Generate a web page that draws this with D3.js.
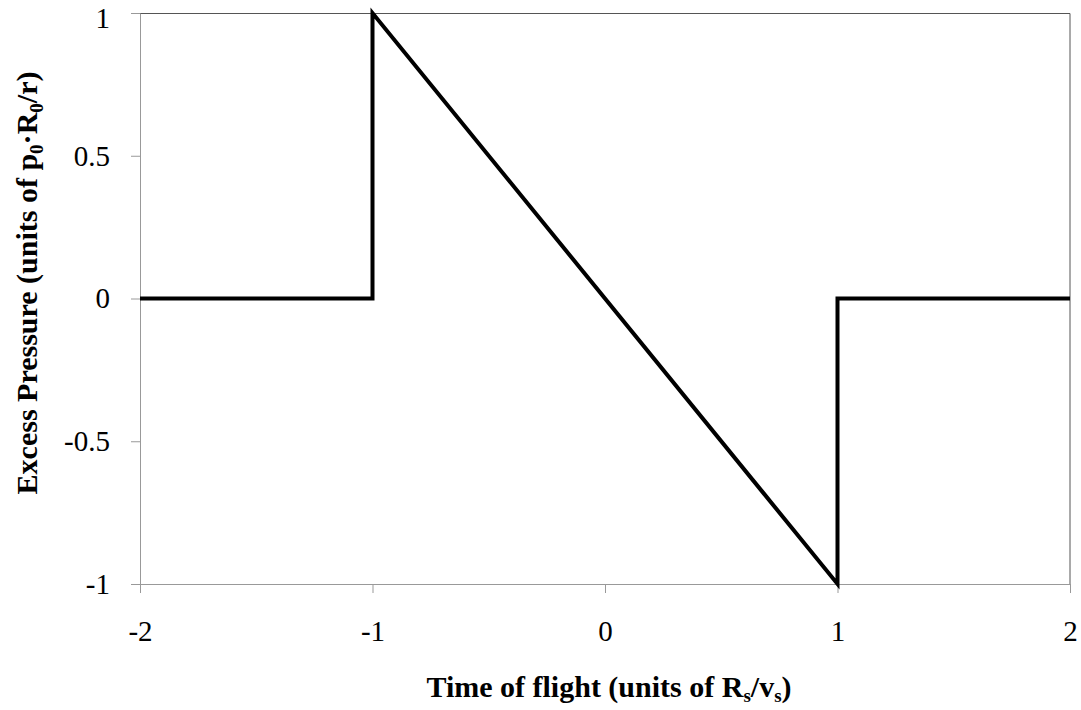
<!DOCTYPE html>
<html>
<head>
<meta charset="utf-8">
<script src="https://cdn.jsdelivr.net/npm/d3@7"></script>
<style>
  body { margin: 0; background: #fff; }
  text { font-family: "Liberation Serif", "Times New Roman", serif; }
</style>
</head>
<body>
<div id="wrapper"></div>
<script>
// pulse shape: time of flight vs excess pressure
const timeValues = [-2, -1, -1, 1, 1, 2];
const pressureValues = [0, 0, 1, -1, 0, 0];
const xTicks = [-2, -1, 0, 1, 2];
const yTicks = [-1, -0.5, 0, 0.5, 1];

const dataset = timeValues.map((t, i) => ({ t: t, p: pressureValues[i] }));

let dimensions = {
  width: 1081,
  height: 710,
  margin: { top: 13, right: 11, bottom: 126, left: 140 },
};
dimensions.boundedWidth =
  dimensions.width - dimensions.margin.left - dimensions.margin.right;
dimensions.boundedHeight =
  dimensions.height - dimensions.margin.top - dimensions.margin.bottom;

const wrapper = d3
  .select("#wrapper")
  .append("svg")
  .attr("width", dimensions.width)
  .attr("height", dimensions.height);

const bounds = wrapper
  .append("g")
  .attr("transform", `translate(${dimensions.margin.left},${dimensions.margin.top})`);

const xScale = d3.scaleLinear().domain([-2, 2]).range([0, dimensions.boundedWidth]);
const yScale = d3.scaleLinear().domain([-1, 1]).range([dimensions.boundedHeight, 0]);

// top + right frame lines
bounds
  .append("path")
  .attr("d", `M0,0.5H${dimensions.boundedWidth}V${dimensions.boundedHeight}`)
  .attr("fill", "none")
  .attr("stroke", "#555")
  .attr("stroke-width", 1);

const yAxisGenerator = d3
  .axisLeft(yScale)
  .tickValues(yTicks)
  .tickSizeInner(9)
  .tickSizeOuter(0)
  .tickPadding(21)
  .tickFormat((d) => String(d));

const yAxis = bounds.append("g").call(yAxisGenerator);

const xAxisGenerator = d3
  .axisBottom(xScale)
  .tickValues(xTicks)
  .tickSizeInner(9)
  .tickSizeOuter(0)
  .tickPadding(27)
  .tickFormat((d) => String(d));

const xAxis = bounds
  .append("g")
  .attr("transform", `translate(0,${dimensions.boundedHeight})`)
  .call(xAxisGenerator);

[xAxis, yAxis].forEach((ax) => {
  ax.select(".domain").attr("stroke", "#999");
  ax.selectAll(".tick line").attr("stroke", "#999");
  ax.selectAll(".tick text")
    .attr("fill", "#000")
    .style("font-size", "29px")
    .style("font-family", "Liberation Serif");
});

// top label sits right at the edge, nudge it down a bit
yAxis.selectAll(".tick text").filter((d) => d === 1).attr("dy", "0.5em");

const lineGenerator = d3
  .line()
  .x((d) => xScale(d.t))
  .y((d) => yScale(d.p));

bounds
  .append("path")
  .attr("d", lineGenerator(dataset))
  .attr("fill", "none")
  .attr("stroke", "#000")
  .attr("stroke-width", 4)
  .attr("stroke-linejoin", "miter");

// axis titles
const xTitle = wrapper
  .append("text")
  .attr("x", 609)
  .attr("y", 697)
  .attr("text-anchor", "middle")
  .style("font-size", "30px")
  .style("font-weight", "bold");
xTitle.append("tspan").text("Time of flight (units of R");
xTitle.append("tspan").attr("font-size", "19px").attr("dy", 5).text("s");
xTitle.append("tspan").attr("dy", -5).text("/v");
xTitle.append("tspan").attr("font-size", "19px").attr("dy", 5).text("s");
xTitle.append("tspan").attr("dy", -5).text(")");

const yTitle = wrapper
  .append("text")
  .attr("transform", `translate(37,${283}) rotate(-90)`)
  .attr("text-anchor", "middle")
  .style("font-size", "30px")
  .style("font-weight", "bold");
yTitle.append("tspan").text("Excess Pressure (units of p");
yTitle.append("tspan").attr("font-size", "19px").attr("dy", 6).text("0");
yTitle.append("tspan").attr("dy", -6).text("·R");
yTitle.append("tspan").attr("font-size", "19px").attr("dy", 6).text("0");
yTitle.append("tspan").attr("dy", -6).text("/r)");
</script>
</body>
</html>
